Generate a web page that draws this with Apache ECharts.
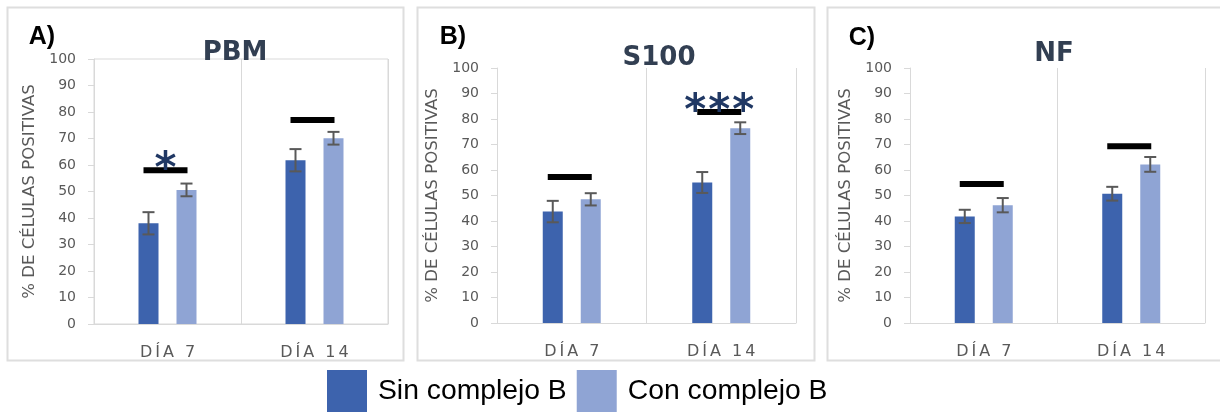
<!DOCTYPE html>
<html>
<head>
<meta charset="utf-8">
<script src="https://cdn.jsdelivr.net/npm/echarts@6/dist/echarts.min.js"></script>
<style>
  html, body { margin: 0; padding: 0; background: #ffffff; }
  #chart { width: 1220px; height: 413px; }
</style>
</head>
<body>
<div id="chart"></div>
<script>
// Percentage of positive cells per marker, day 7 and day 14
const CATEGORIES = ['DÍA 7', 'DÍA 14'];
const PANEL_TAGS = ['A)', 'B)', 'C)'];
const PANEL_TITLES = ['PBM', 'S100', 'NF'];
const SERIES_NAMES = ['Sin complejo B', 'Con complejo B'];

// [PBM, S100, NF] -> [día 7, día 14]
const SIN_VALUES = [[38, 61.8], [43.7, 55.1], [41.8, 50.7]];
const SIN_ERRORS = [[4.2, 4.2], [4.2, 4.1], [2.6, 2.7]];
const CON_VALUES = [[50.6, 70.1], [48.5, 76.4], [46.2, 62.2]];
const CON_ERRORS = [[2.4, 2.4], [2.4, 2.3], [2.8, 2.9]];

// comparison bracket level and significance marks
const SIG_LEVELS = [[58, 77], [57.3, 82.7], [54.5, 69.3]];
const SIG_STARS = [['*', ''], ['', '***'], ['', '']];

const Y_MIN = 0, Y_MAX = 100, Y_STEP = 10;

// ---- layout / style ----
const COLORS = ['#3D63AD', '#8FA4D4'];
const AXIS_GRAY = '#D9D9D9';
const TEXT_GRAY = '#595959';
const BAR_W = 20, BAR_GAP_PX = 18;
const BAR_OFFSET = (BAR_W + BAR_GAP_PX) / 2;

const GRIDS = [
  { left: 94, top: 59, width: 294, height: 265 },
  { left: 497, top: 68, width: 299, height: 255 },
  { left: 910, top: 68, width: 295, height: 255 }
];
const FRAMES = [
  { x: 7, y: 7, width: 396, height: 353 },
  { x: 417, y: 7, width: 397, height: 353 },
  { x: 827, y: 7, width: 400, height: 353 }
];
const TAG_POS = [[42, 37], [453, 37], [862, 38]];
const TITLE_POS = [[235, 53], [659, 58], [1054, 54]];

// category labels are drawn with a little tracking between letters
function spaced(str) {
  return str.split('').map(ch => '{s|' + ch + '}').join('');
}

function errorRender(offsetSign) {
  return function (params, api) {
    const idx = api.value(0), v = api.value(1), e = api.value(2);
    const x = api.coord([idx, v])[0] + offsetSign * BAR_OFFSET;
    const yT = api.coord([idx, v + e])[1];
    const yB = api.coord([idx, v - e])[1];
    const st = { stroke: '#595959', lineWidth: 2 };
    return {
      type: 'group',
      children: [
        { type: 'line', shape: { x1: x, y1: yT, x2: x, y2: yB }, style: st },
        { type: 'line', shape: { x1: x - 6, y1: yT, x2: x + 6, y2: yT }, style: st },
        { type: 'line', shape: { x1: x - 6, y1: yB, x2: x + 6, y2: yB }, style: st }
      ]
    };
  };
}

function sigRender(params, api) {
  const idx = api.value(0), lvl = api.value(1), n = api.value(2);
  const c = api.coord([idx, lvl]);
  const children = [
    { type: 'rect', shape: { x: c[0] - 24, y: c[1] - 3, width: 44, height: 6 }, style: { fill: '#000000' } }
  ];
  for (let k = 0; k < n; k++) {
    children.push({
      type: 'text',
      x: c[0] - 2 + (k - (n - 1) / 2) * 24,
      y: c[1] + 1,
      style: {
        text: '*', fill: '#203864',
        font: 'bold 42px "DejaVu Sans"',
        align: 'center', verticalAlign: 'middle'
      }
    });
  }
  return { type: 'group', children: children };
}

const grid = [], xAxis = [], yAxis = [], series = [];

GRIDS.forEach((g, i) => {
  grid.push(Object.assign({
    containLabel: false,
    show: i === 0,
    borderColor: AXIS_GRAY,
    borderWidth: 1,
    backgroundColor: 'transparent'
  }, g));

  xAxis.push({
    type: 'category',
    gridIndex: i,
    data: CATEGORIES,
    axisLine: { show: true, lineStyle: { color: AXIS_GRAY, width: 1 } },
    axisTick: { show: false, interval: 0 },
    splitLine: { show: true, interval: 0, lineStyle: { color: AXIS_GRAY, width: 1 } },
    axisLabel: {
      interval: 0,
      hideOverlap: false,
      margin: 21,
      formatter: spaced,
      rich: {
        s: { fontFamily: 'DejaVu Sans', fontSize: 16, color: TEXT_GRAY, padding: [0, 1.5, 0, 1.5] }
      }
    }
  });

  yAxis.push({
    type: 'value',
    gridIndex: i,
    min: Y_MIN, max: Y_MAX, interval: Y_STEP,
    axisLine: { show: true, lineStyle: { color: AXIS_GRAY, width: 1 } },
    axisTick: { show: true, inside: false, length: 6, lineStyle: { color: AXIS_GRAY } },
    splitLine: { show: false },
    axisLabel: { margin: 18, color: TEXT_GRAY, fontFamily: 'DejaVu Sans', fontSize: 14 },
    name: '% DE CÉLULAS POSITIVAS',
    nameLocation: 'middle',
    nameGap: 56,
    nameRotate: 90,
    nameTextStyle: { color: TEXT_GRAY, fontFamily: 'DejaVu Sans', fontSize: 16.6 }
  });

  [SIN_VALUES, CON_VALUES].forEach((vals, s) => {
    series.push({
      name: SERIES_NAMES[s],
      type: 'bar',
      xAxisIndex: i, yAxisIndex: i,
      data: vals[i],
      barWidth: BAR_W,
      barGap: (BAR_GAP_PX / BAR_W * 100) + '%',
      itemStyle: { color: COLORS[s] },
      animation: false
    });
  });

  [SIN_ERRORS, CON_ERRORS].forEach((errs, s) => {
    const vals = s === 0 ? SIN_VALUES[i] : CON_VALUES[i];
    series.push({
      type: 'custom',
      xAxisIndex: i, yAxisIndex: i,
      data: vals.map((v, k) => [k, v, errs[i][k]]),
      encode: { x: 0, y: 1 },
      renderItem: errorRender(s === 0 ? -1 : 1),
      z: 5,
      silent: true,
      animation: false
    });
  });

  series.push({
    type: 'custom',
    xAxisIndex: i, yAxisIndex: i,
    data: SIG_LEVELS[i].map((lvl, k) => [k, lvl, SIG_STARS[i][k].length]),
    encode: { x: 0, y: 1 },
    renderItem: sigRender,
    z: 6,
    silent: true,
    animation: false
  });
});

const graphic = [];
FRAMES.forEach(f => {
  graphic.push({
    type: 'rect', z: -10,
    shape: { x: f.x + 0.5, y: f.y + 0.5, width: f.width, height: f.height },
    style: { fill: '#ffffff', stroke: '#DEDEDE', lineWidth: 2 }
  });
});
PANEL_TAGS.forEach((t, i) => {
  graphic.push({
    type: 'text', x: TAG_POS[i][0], y: TAG_POS[i][1], z: 10,
    style: { text: t, font: 'bold 25px "Liberation Sans"', fill: '#000000', align: 'center', verticalAlign: 'middle' }
  });
});
PANEL_TITLES.forEach((t, i) => {
  graphic.push({
    type: 'text', x: TITLE_POS[i][0], y: TITLE_POS[i][1], z: 10,
    style: { text: t, font: 'bold 26px "DejaVu Sans"', fill: '#323F52', align: 'center', verticalAlign: 'middle' }
  });
});

const chart = echarts.init(document.getElementById('chart'), null, { renderer: 'canvas' });
chart.setOption({
  animation: false,
  backgroundColor: '#ffffff',
  grid: grid,
  xAxis: xAxis,
  yAxis: yAxis,
  series: series,
  graphic: graphic,
  legend: {
    data: SERIES_NAMES,
    left: 327,
    top: 370,
    padding: 0,
    itemWidth: 40,
    itemHeight: 42,
    itemGap: 10,
    icon: 'rect',
    textStyle: { fontFamily: 'Liberation Sans', fontSize: 28.3, color: '#000000', padding: [0, 0, 0, 6] }
  }
});
</script>
</body>
</html>
